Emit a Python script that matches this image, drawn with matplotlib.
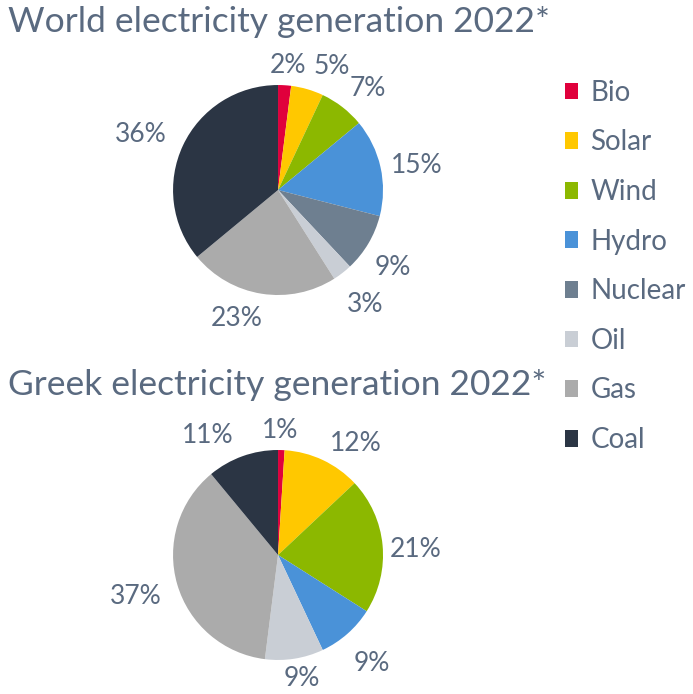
import matplotlib
matplotlib.use("Agg")
import matplotlib.pyplot as plt
import numpy as np
from matplotlib.patches import Patch

plt.rcParams['font.family'] = ['Lato', 'DejaVu Sans']

# sources, clockwise from 12 o'clock
sources = ["Bio", "Solar", "Wind", "Hydro", "Nuclear", "Oil", "Gas", "Coal"]
colors = ["#e0003c", "#ffc800", "#8cb800", "#4a92d8", "#6e7f90", "#c9ced5", "#ababab", "#2b3544"]
world_share = [2, 5, 7, 15, 9, 3, 23, 36]
greek_share = [1, 12, 21, 9, 0, 9, 37, 11]

# label placement tweaks: distance (pie radii) and angle nudge (degrees)
world_label_r = [1.21, 1.31, 1.31, 1.35, 1.31, 1.35, 1.26, 1.42]
world_label_da = [-1, -7, -3, -1.5, -2.5, 0, -9, 2.5]
greek_label_r = [1.21, 1.31, 1.31, 1.35, 1.3, 1.17, 1.40, 1.34]
greek_label_da = [1, -9, -2, 0, 0, 2, -1, 10]

txt_color = "#5a6a80"

fig = plt.figure(figsize=(6.93, 6.94), dpi=100)

def draw_pie(rect, values, label_r, label_da):
    ax = fig.add_axes(rect)
    labels = [f"{v}%" if v else "" for v in values]
    wedges, texts = ax.pie(values, colors=colors, labels=labels, startangle=90,
                           counterclock=False,
                           textprops=dict(color=txt_color, fontsize=19))
    for w, t, r, da in zip(wedges, texts, label_r, label_da):
        ang = np.deg2rad((w.theta1 + w.theta2) / 2 + da)
        t.set_position((r * np.cos(ang), r * np.sin(ang)))
        t.set_ha("center")
        t.set_va("center_baseline")
    ax.set_xlim(-1.25, 1.25)
    ax.set_ylim(-1.25, 1.25)
    ax.set_aspect("equal")
    return ax

draw_pie([0.2118, 0.5371, 0.3788, 0.3782], world_share, world_label_r, world_label_da)
draw_pie([0.2118, 0.0112, 0.3788, 0.3782], greek_share, greek_label_r, greek_label_da)

fig.text(0.012, 0.954, "World electricity generation 2022*", fontsize=25.5,
         color=txt_color, va="baseline")
fig.text(0.012, 0.431, "Greek electricity generation 2022*", fontsize=25.5,
         color=txt_color, va="baseline")

handles = [Patch(facecolor=c, edgecolor="none") for c in colors]
fig.legend(handles, sources, loc="upper left", bbox_to_anchor=(0.815, 0.885),
           frameon=False, fontsize=20, labelcolor=txt_color,
           handlelength=0.47, handleheight=0.55, handletextpad=0.45,
           labelspacing=0.85, borderpad=0, borderaxespad=0)

fig.savefig("out.png", dpi=100)
